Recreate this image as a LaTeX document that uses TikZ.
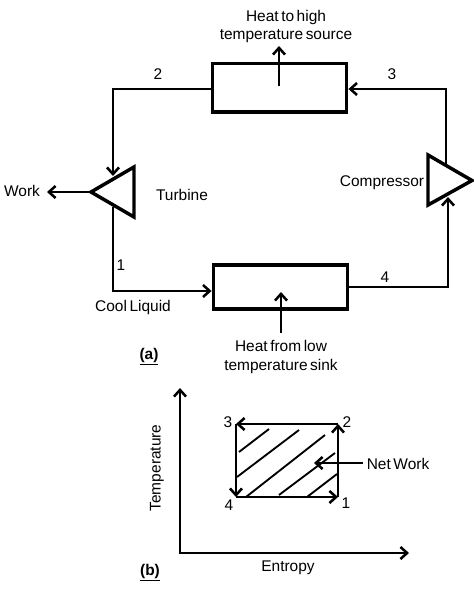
\documentclass[tikz,border=0pt]{standalone}
\usepackage{fontspec}
\setmainfont[WordSpace=0.6]{Liberation Sans}
\usetikzlibrary{calc,arrows.meta,positioning}
\tikzset{
  unitbox/.style={draw,line width=2.4pt,minimum width=101pt},
  pipe/.style={line width=1.9pt},
  barb/.tip={Straight Barb[length=5pt,width=9pt,line width=1.9pt]},
  flow/.style={pipe,-barb},
  hatchline/.style={line width=1.4pt},
  machine/.style={line width=2.6pt,line join=miter},
  lbl/.style={font=\fontsize{11.6}{14}\selectfont,align=center,inner sep=0pt}
}
\begin{document}
\begin{tikzpicture}[x=0.75pt,y=-0.75pt,line cap=butt]
        \useasboundingbox (0,0) rectangle (474,589);
        % part (a)
        \node[unitbox,minimum height=36.4pt] (hot) at (279.5,87.8) {};
        \node[unitbox,minimum height=33pt] (cold) at (280.5,287) {};
        \coordinate (t1) at (91,192);
        \coordinate (t2) at (134,167);
        \coordinate (t3) at (134,217);
        \coordinate (c1) at (428,155);
        \coordinate (c2) at (472,180.5);
        \coordinate (c3) at (428,205);
        \draw[machine] (t1) -- (t2) -- (t3) -- cycle;
        \draw[machine] (c1) -- (c2) -- (c3) -- cycle;
        \coordinate (p2) at (113,89);
        \coordinate (p3) at (446,89);
        \coordinate (p1) at (113,291);
        \coordinate (p4) at (448,287);
        \draw[flow] (hot.west |- p2) -- (p2) -- (113,176);
        \draw[flow] (446,164) -- (p3) -- (hot.east |- p3);
        \draw[flow] (113,207) -- (p1) -- (cold.west |- p1);
        \draw[flow] (cold.east |- p4) -- (p4) -- (448,197);
        \coordinate (workend) at (47,192);
        \draw[flow] (t1) -- (workend);
        \coordinate (hotin) at (279,86);
        \coordinate (hotout) at (279,46);
        \draw[flow] (hotin) -- (hotout);
        \coordinate (coldin) at (281,333);
        \coordinate (coldout) at (281,292);
        \draw[flow] (coldin) -- (coldout);
        \node[lbl] (heatout) at (286,26.5) {Heat to high\\temperature source};
        \node[lbl] (heatin) at (281,357) {Heat from low\\temperature sink};
        \node[lbl] (work) at (22,191) {Work};
        \node[lbl] (turbine) at (182,195) {Turbine};
        \node[lbl] (compressor) at (382,183) {Compressor};
        \node[lbl] (cool) at (133,307.5) {Cool Liquid};
        \node[lbl] (st2) at (158,74) {2};
        \node[lbl] (st3) at (392,74) {3};
        \node[lbl] (st1) at (121,265) {1};
        \node[lbl] (st4) at (385,277) {4};
        \node[lbl] (parta) at (149,357) {\textbf{\underline{(a)}}};
        % part (b)
        \coordinate (o) at (180,553);
        \coordinate (ytop) at (180,388);
        \coordinate (xend) at (409,553);
        \draw[pipe,barb-barb] (ytop) -- (o) -- (xend);
        \coordinate (s1) at (338,497);
        \coordinate (s2) at (338,424);
        \coordinate (s3) at (236,424);
        \coordinate (s4) at (236,497);
        \draw[flow] (s1) -- (s2);
        \draw[flow] (s2) -- (s3);
        \draw[flow] (s3) -- (s4);
        \draw[flow] (s4) -- (s1);
        \foreach \xa/\ya/\xb/\yb in {239/452/269/429,237/477/299/430,246/497/325/435,279/495/335/453,307/497/337/474}{
          \draw[hatchline] (\xa,\ya) -- (\xb,\yb);
        }
        \node[lbl] (network) at (398,464) {Net Work};
        \draw[flow] (363,463) -- (314,463);
        \node[lbl] (lab3) at (228,422) {3};
        \node[lbl] (lab2) at (347,422) {2};
        \node[lbl] (lab4) at (229,505) {4};
        \node[lbl] (lab1) at (346,503) {1};
        \node[lbl,rotate=90] (temp) at (157,468) {Temperature};
        \node[lbl] (entropy) at (288,568) {Entropy};
        \node[lbl] (partb) at (150,573) {\textbf{\underline{(b)}}};
      \end{tikzpicture}
\end{document}
